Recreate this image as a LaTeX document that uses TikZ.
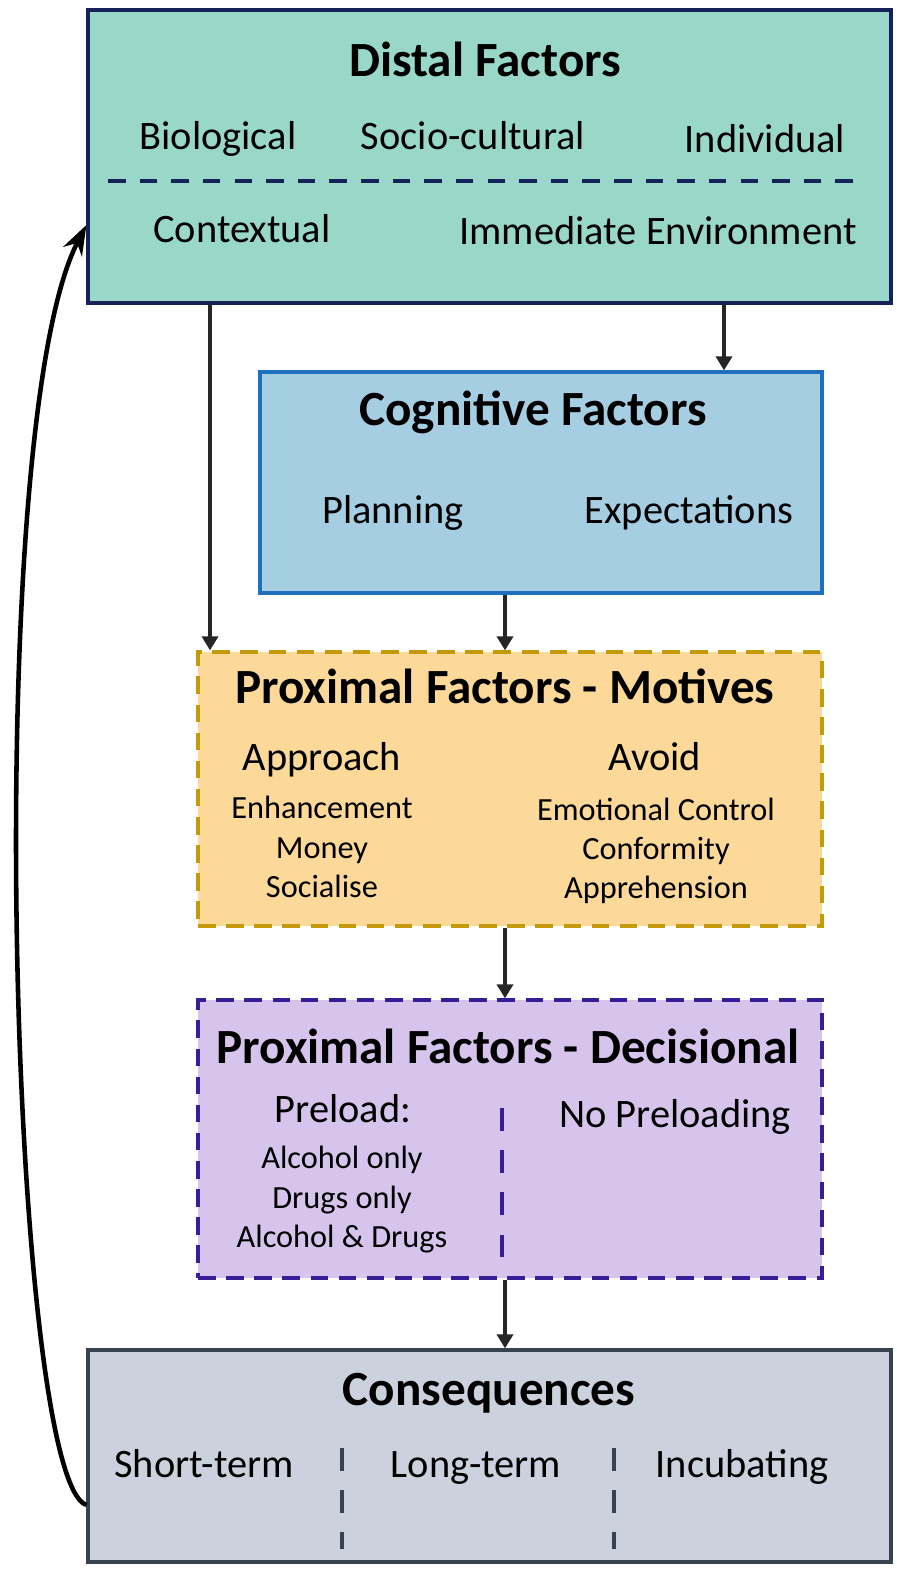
\documentclass[tikz,border=0pt]{standalone}
\usepackage{fontspec}
\setmainfont{Carlito}
\usetikzlibrary{arrows.meta}
\definecolor{distalfill}{RGB}{153,216,201}
\definecolor{distalline}{RGB}{22,35,90}
\definecolor{cogfill}{RGB}{166,206,227}
\definecolor{cogline}{RGB}{30,112,190}
\definecolor{motfill}{RGB}{252,217,152}
\definecolor{motline}{RGB}{196,154,10}
\definecolor{decfill}{RGB}{214,196,236}
\definecolor{decline}{RGB}{55,30,150}
\definecolor{consfill}{RGB}{203,210,222}
\definecolor{consline}{RGB}{55,65,80}
\definecolor{arrowgray}{RGB}{38,38,38}

\begin{document}
\begin{tikzpicture}[x=0.02cm, y=-0.02cm]
    \tikzstyle{box_style} = [draw, line width=1.9pt, inner sep=0pt]
    \tikzstyle{box_dash} = [line width=1.9pt, dash pattern=on 10pt off 6pt]
    \tikzstyle{title_style} = [anchor=base, font=\fontsize{28}{30}\selectfont\bfseries]
    \tikzstyle{item_style} = [anchor=base, font=\fontsize{23}{26}\selectfont]
    \tikzstyle{small_style} = [anchor=base, font=\fontsize{18.4}{22}\selectfont]
    \tikzstyle{sep_style} = [line width=2.2pt, dash pattern=on 13pt off 11pt]
    \tikzstyle{arrow_style} = [-{Triangle[length=0.28cm, width=0.32cm]}, line width=2.1pt, arrowgray]

    \useasboundingbox (0,0) rectangle (896,1572);

    % boxes
    \node[box_style, fill=distalfill, draw=distalline, minimum width=16.06cm, minimum height=5.86cm] (distal) at (489.5,156.5) {};
    \node[box_style, fill=cogfill, draw=cogline, minimum width=11.24cm, minimum height=4.42cm] (cog) at (541,482.5) {};
    \node[box_style, box_dash, fill=motfill, draw=motline, minimum width=12.48cm, minimum height=5.48cm] (mot) at (510,789) {};
    \node[box_style, box_dash, fill=decfill, draw=decline, minimum width=12.48cm, minimum height=5.56cm] (dec) at (510,1139) {};
    \node[box_style, fill=consfill, draw=consline, minimum width=16.06cm, minimum height=4.24cm] (cons) at (489.5,1456) {};

    % distal factors
    \node[title_style] (distal_title) at (485,76) {Distal Factors};
    \node[item_style] (bio) at (218,149) {Biological};
    \node[item_style] (socio) at (473,149) {Socio-cultural};
    \node[item_style] (indiv) at (765,152) {Individual};
    \draw[distalline, line width=2.2pt, dash pattern=on 10pt off 8pt] (108,181) -- (865,181);
    \node[item_style] (context) at (242,242) {Contextual};
    \node[item_style] (immediate) at (658,244) {Immediate Environment};

    % cognitive factors
    \node[title_style] (cog_title) at (533,425) {Cognitive Factors};
    \node[item_style] (planning) at (393,523) {Planning};
    \node[item_style] (expect) at (689,523) {Expectations};

    % motives
    \node[title_style] (mot_title) at (505,703) {Proximal Factors - Motives};
    \node[item_style] (approach) at (322,770) {Approach};
    \node[item_style] (avoid) at (655,770) {Avoid};
    \node[small_style] (enhance) at (322,818) {Enhancement};
    \node[small_style] (money) at (322,858) {Money};
    \node[small_style] (social) at (322,897) {Socialise};
    \node[small_style] (emotion) at (656,820) {Emotional Control};
    \node[small_style] (conform) at (656,859) {Conformity};
    \node[small_style] (appre) at (656,898) {Apprehension};

    % decisional
    \node[title_style] (dec_title) at (508,1063) {Proximal Factors - Decisional};
    \node[item_style] (preload) at (343,1122) {Preload:};
    \node[item_style] (nopreload) at (675,1127) {No Preloading};
    \node[small_style] (alc_only) at (342,1168) {Alcohol only};
    \node[small_style] (drug_only) at (342,1208) {Drugs only};
    \node[small_style] (alc_drug) at (342,1247) {Alcohol \& Drugs};
    \draw[decline, sep_style] (502,1108) -- (502,1264);

    % consequences
    \node[title_style] (cons_title) at (489,1405) {Consequences};
    \node[item_style] (short) at (204,1477) {Short-term};
    \node[item_style] (long) at (476,1477) {Long-term};
    \node[item_style] (incub) at (742,1477) {Incubating};
    \foreach \sx in {342,614}
        \draw[consline, sep_style] (\sx,1448) -- (\sx,1549);

    % arrows
    \coordinate (leftline) at (210,0);
    \coordinate (rightline) at (724,0);
    \coordinate (midline) at (505,0);
    \draw[arrow_style] (distal.south -| leftline) -- (mot.north -| leftline);
    \draw[arrow_style] (distal.south -| rightline) -- (cog.north -| rightline);
    \draw[arrow_style] (cog.south -| midline) -- (mot.north -| midline);
    \draw[arrow_style] (mot.south -| midline) -- (dec.north -| midline);
    \draw[arrow_style] (dec.south -| midline) -- (cons.north -| midline);

    \draw[line width=2.6pt, -{Stealth[length=0.6cm, width=0.42cm]}]
        ([yshift=-0.98cm]cons.west) .. controls (10,1480) and (-20,430) .. ([yshift=-1.37cm]distal.west);
\end{tikzpicture}
\end{document}
